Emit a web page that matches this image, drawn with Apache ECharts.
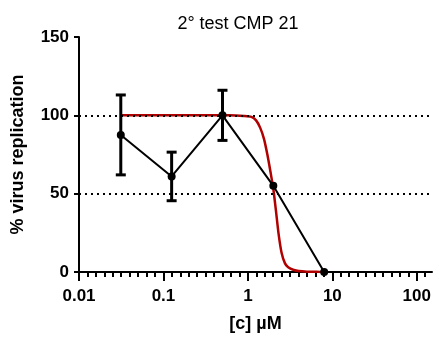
<!DOCTYPE html>
<html>
<head>
<meta charset="utf-8">
<style>
  html, body { margin: 0; padding: 0; background: #fff; }
  #chart { width: 435px; height: 340px; }
</style>
<script src="https://cdn.jsdelivr.net/npm/echarts@6/dist/echarts.min.js"></script>
</head>
<body>
<div id="chart"></div>
<script>
// Concentrations tested (µM) and measured % virus replication (mean ± SD)
const conc = [0.03125, 0.125, 0.5, 2, 8];
const meanPct = [87.5, 61, 100, 55, 0];
const sdPct = [25.5, 15.5, 16, 0, 0];

// Fitted dose–response curve, sampled points (µM, %)
const fitConc = [0.03125, 0.1, 0.3, 0.6, 0.9, 1.1, 1.25, 1.4, 1.55, 1.7, 1.85, 2.0, 2.15, 2.3, 2.5, 2.75, 3.0, 3.5, 4.0, 5.0, 6.5, 8.0];
const fitPct = [100, 100, 100, 100, 99.6, 99, 96.8, 92, 85, 75, 64, 53, 39, 25, 12.5, 5.5, 3, 1.3, 0.6, 0.2, 0.1, 0];

// Reference levels and axis ticks
const refLevels = [50, 100];
const xMajorTicks = [0.01, 0.1, 1, 10, 100];
const yTicks = [0, 50, 100, 150];

const FONT = '"Liberation Sans", Arial, Helvetica, sans-serif';
const X_MIN = 0.01;
const X_MAX = Math.pow(10, 2.18);

// evenly spaced (in log space) minor ticks, ten per decade
const xMinorTicks = [];
for (let d = -2; d <= 2; d++) {
  for (let k = 1; k <= 9; k++) {
    const v = Math.pow(10, d + k / 10);
    if (v < X_MAX) xMinorTicks.push(v);
  }
}

const chart = echarts.init(document.getElementById('chart'), null, { renderer: 'canvas' });

const fmtConc = v => String(+v.toPrecision(6));

const option = {
  animation: false,
  backgroundColor: '#fff',
  title: {
    text: '2° test CMP 21',
    left: 233,
    textAlign: 'center',
    top: 10,
    textStyle: { fontFamily: FONT, fontSize: 18, fontWeight: 'normal', color: '#000' }
  },
  grid: { left: 79, right: 3, top: 37, bottom: 68, containLabel: false },
  xAxis: [
    {
      type: 'log',
      logBase: 10,
      min: X_MIN,
      max: X_MAX,
      position: 'bottom',
      name: '[c] µM',
      nameLocation: 'middle',
      nameGap: 43,
      nameTextStyle: { fontFamily: FONT, fontSize: 18, fontWeight: 'bold', color: '#000' },
      axisLine: { show: true, onZero: false, lineStyle: { color: '#000', width: 2 } },
      axisTick: { show: true, inside: false, length: 9, customValues: xMajorTicks, lineStyle: { color: '#000', width: 2 } },
      axisLabel: {
        show: true, customValues: xMajorTicks, margin: 16,
        fontFamily: FONT, fontSize: 17, fontWeight: 'bold', color: '#000',
        formatter: fmtConc
      },
      splitLine: { show: false },
      minorTick: { show: false }
    },
    {
      type: 'log',
      logBase: 10,
      min: X_MIN,
      max: X_MAX,
      position: 'bottom',
      offset: 0,
      axisLine: { show: false, onZero: false },
      axisTick: { show: true, inside: false, length: 5, customValues: xMinorTicks, lineStyle: { color: '#000', width: 2 } },
      axisLabel: { show: false },
      splitLine: { show: false }
    }
  ],
  yAxis: {
    type: 'value',
    min: 0,
    max: 150,
    interval: 50,
    name: '% virus replication',
    nameLocation: 'middle',
    nameGap: 52,
    nameRotate: 90,
    nameTextStyle: { fontFamily: FONT, fontSize: 18, fontWeight: 'bold', color: '#000' },
    axisLine: { show: true, onZero: false, lineStyle: { color: '#000', width: 2 } },
    axisTick: { show: true, inside: false, length: 5, customValues: yTicks, lineStyle: { color: '#000', width: 2 } },
    axisLabel: {
      customValues: yTicks, margin: 10,
      fontFamily: FONT, fontSize: 17, fontWeight: 'bold', color: '#000'
    },
    splitLine: { show: false }
  },
  series: [
    {
      name: 'fit',
      type: 'line',
      xAxisIndex: 0,
      data: fitConc.map((c, i) => [c, fitPct[i]]),
      showSymbol: false,
      symbol: 'none',
      smooth: 0.25,
      lineStyle: { color: '#b00000', width: 2.5 },
      z: 2,
      markLine: {
        silent: true,
        symbol: 'none',
        label: { show: false },
        lineStyle: { color: '#000', width: 2, type: [2, 4] },
        data: refLevels.map(v => ({ yAxis: v }))
      }
    },
    {
      name: 'mean',
      type: 'line',
      xAxisIndex: 0,
      data: conc.map((c, i) => [c, meanPct[i]]),
      symbol: 'circle',
      symbolSize: 8,
      itemStyle: { color: '#000' },
      lineStyle: { color: '#000', width: 2 },
      z: 4
    },
    {
      name: 'sd',
      type: 'custom',
      xAxisIndex: 0,
      data: conc.map((c, i) => [c, meanPct[i] - sdPct[i], meanPct[i] + sdPct[i]]),
      renderItem: function (params, api) {
        const x = api.value(0);
        const lo = api.coord([x, api.value(1)]);
        const hi = api.coord([x, api.value(2)]);
        if (Math.abs(hi[1] - lo[1]) < 1) return null;
        const half = 5;
        const style = { stroke: '#000', lineWidth: 3 };
        return {
          type: 'group',
          children: [
            { type: 'line', shape: { x1: lo[0], y1: lo[1], x2: hi[0], y2: hi[1] }, style: style },
            { type: 'line', shape: { x1: hi[0] - half, y1: hi[1], x2: hi[0] + half, y2: hi[1] }, style: style },
            { type: 'line', shape: { x1: lo[0] - half, y1: lo[1], x2: lo[0] + half, y2: lo[1] }, style: style }
          ]
        };
      },
      z: 5
    }
  ]
};

chart.setOption(option);
</script>
</body>
</html>
